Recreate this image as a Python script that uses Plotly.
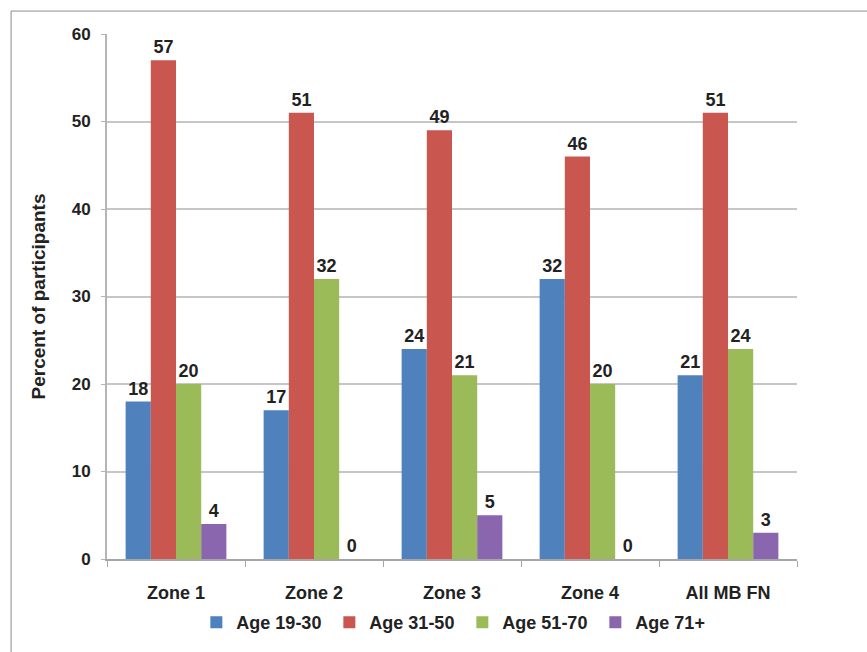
import plotly.graph_objects as go

# Share of participants by age band in each zone
zones = ["Zone 1", "Zone 2", "Zone 3", "Zone 4", "All MB FN"]
age_19_30 = [18, 17, 24, 32, 21]
age_31_50 = [57, 51, 49, 46, 51]
age_51_70 = [20, 32, 21, 20, 24]
age_71_plus = [4, 0, 5, 0, 3]

series_names = ["Age 19-30", "Age 31-50", "Age 51-70", "Age 71+"]
series_values = [age_19_30, age_31_50, age_51_70, age_71_plus]
series_colors = ["#4F81BD", "#C9564F", "#9BBB59", "#8A66AE"]

y_ticks = [0, 10, 20, 30, 40, 50, 60]

FONT = "Liberation Sans, Arial, sans-serif"
INK = "#222222"

fig = go.Figure()
for name, vals, col in zip(series_names, series_values, series_colors):
    fig.add_trace(go.Bar(
        x=zones,
        y=vals,
        name=name,
        marker=dict(color=col, line=dict(width=0)),
        text=[str(v) for v in vals],
        textposition="outside",
        textfont=dict(family=FONT, size=18, color=INK, weight="bold"),
        cliponaxis=False,
    ))

fig.update_layout(
    width=867,
    height=652,
    margin=dict(l=107, r=70, t=34, b=92),
    paper_bgcolor="white",
    plot_bgcolor="white",
    barmode="group",
    bargap=0.27,
    bargroupgap=0,
    font=dict(family=FONT, size=17, color=INK, weight="bold"),
    showlegend=True,
    legend=dict(
        orientation="h",
        x=0.515,
        xanchor="center",
        y=-0.119,
        yanchor="middle",
        font=dict(family=FONT, size=18, color=INK, weight="bold"),
        itemwidth=30,
        entrywidth=88,
        entrywidthmode="pixels",
        traceorder="normal",
    ),
    xaxis=dict(
        type="category",
        showline=True,
        linecolor="#a6a6a6",
        linewidth=2,
        ticks="outside",
        tickson="boundaries",
        ticklen=6,
        tickcolor="#a6a6a6",
        ticklabelstandoff=16,
        tickfont=dict(family=FONT, size=18, color=INK, weight="bold"),
        showgrid=False,
    ),
    yaxis=dict(
        range=[0, 60],
        tickvals=y_ticks,
        showline=True,
        linecolor="#b5b5b5",
        linewidth=2,
        ticks="outside",
        ticklen=4,
        tickcolor="#b5b5b5",
        ticklabelstandoff=7,
        showgrid=True,
        gridcolor="#c6c6c6",
        gridwidth=2,
        zeroline=False,
        tickfont=dict(family=FONT, size=17, color=INK, weight="bold"),
        title=dict(
            text="Percent of participants",
            font=dict(family=FONT, size=19, color=INK, weight="bold"),
            standoff=21,
        ),
    ),
    shapes=[
        dict(
            type="rect", xref="paper", yref="paper",
            x0=-0.139, x1=2.0, y0=-1.0, y1=1.0437,
            line=dict(color="#8c8c8c", width=1),
            fillcolor="rgba(0,0,0,0)",
            layer="below",
        )
    ],
)

fig.write_html("out.html")
